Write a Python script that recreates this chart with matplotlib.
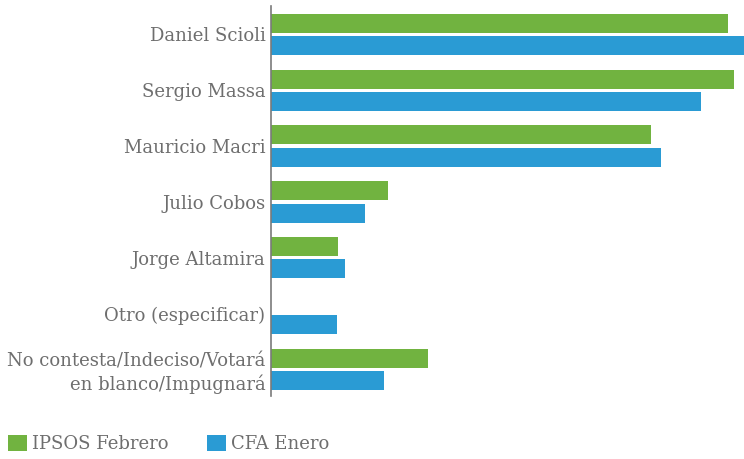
import matplotlib
matplotlib.use("Agg")
import matplotlib.pyplot as plt
import numpy as np

candidates = ["Daniel Scioli", "Sergio Massa", "Mauricio Macri", "Julio Cobos",
              "Jorge Altamira", "Otro (especificar)",
              "No contesta/Indeciso/Votará\nen blanco/Impugnará"]
ipsos_feb = [28.6, 29.0, 23.8, 7.3, 4.2, 0.0, 9.8]
cfa_ene = [29.6, 26.9, 24.4, 5.9, 4.6, 4.1, 7.1]
series_names = ["IPSOS Febrero", "CFA Enero"]

GREEN = "#71b340"
BLUE = "#2a9bd4"
TEXT = "#6e6e6e"

plt.rcParams['font.family'] = ['DejaVu Serif']

fig = plt.figure(figsize=(7.44, 4.59), dpi=100)
ax = fig.add_axes([271 / 744, 63 / 459, 473 / 744, 390 / 459])

y = np.arange(len(candidates))
h = 0.34
ax.barh(y - 0.2, ipsos_feb, height=h, color=GREEN, label=series_names[0])
ax.barh(y + 0.2, cfa_ene, height=h, color=BLUE, label=series_names[1])

ax.set_ylim(len(candidates) - 0.525, -0.51)
ax.set_xlim(0, max(cfa_ene))
ax.set_yticks(y)
ax.set_yticklabels(candidates, fontsize=13, color=TEXT, linespacing=1.25)
ax.tick_params(axis='y', length=0, pad=4)
ax.set_xticks([])
for s in ['top', 'right', 'bottom']:
    ax.spines[s].set_visible(False)
ax.spines['left'].set_color('#7a7a7a')
ax.spines['left'].set_linewidth(1.2)

leg = fig.legend(loc='lower left', bbox_to_anchor=(8 / 744, 6 / 459), ncol=2, frameon=False,
                 fontsize=13, handlelength=1.05, handleheight=1.0, handletextpad=0.28,
                 columnspacing=2.15, borderaxespad=0, borderpad=0)
for t in leg.get_texts():
    t.set_color(TEXT)

fig.savefig("out.png", dpi=100)
